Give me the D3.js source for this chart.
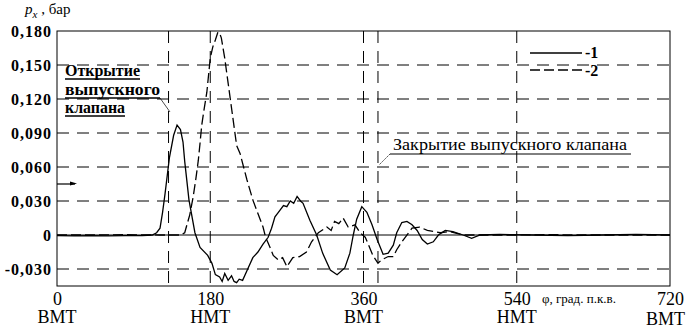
<!DOCTYPE html>
<html>
<head>
<meta charset="utf-8">
<script src="https://cdn.jsdelivr.net/npm/d3@7"></script>
</head>
<body style="margin:0">
<div id="chart"></div>
<script>
// crank angle, deg (curve 1, solid)
const deg1 = [0, 20, 40, 60, 80, 100, 112, 117, 121, 124, 127, 132, 137, 141, 145, 148, 150, 155, 162, 168, 177, 182, 186, 191, 194, 197, 201, 205, 208, 211, 214, 218, 224, 230, 236, 242, 248, 252, 256, 260, 266, 270, 274, 278, 282, 286, 289, 297, 305, 312, 321, 329, 338, 344, 348, 352, 358, 364, 370, 376, 383, 389, 395, 399, 405, 411, 417, 423, 429, 435, 442, 448, 456, 465, 477, 487, 497, 520, 560, 600, 640, 680, 720];
const val1 = [-0.0005, -0.0008, -0.0005, -0.0008, -0.0005, -0.0005, 0, 0.002, 0.006, 0.02, 0.037, 0.068, 0.088, 0.097, 0.093, 0.082, 0.065, 0.031, 0.002, -0.011, -0.018, -0.025, -0.035, -0.037, -0.041, -0.034, -0.04, -0.036, -0.041, -0.042, -0.039, -0.04, -0.03, -0.02, -0.015, -0.008, -0.002, 0.006, 0.016, 0.02, 0.026, 0.025, 0.03, 0.028, 0.034, 0.03, 0.028, 0.013, 0, -0.016, -0.031, -0.035, -0.029, -0.016, 0, 0.014, 0.025, 0.02, 0.009, -0.004, -0.017, -0.016, -0.009, 0.002, 0.011, 0.012, 0.009, 0.004, -0.004, -0.008, -0.006, 0, 0.004, 0.003, 0, -0.003, 0, 0.0005, 0, -0.0005, 0, 0.0005, 0];

// curve 2, dashed
const deg2 = [0, 40, 80, 120, 145, 150, 153, 156, 160, 163, 166, 168, 170, 173, 176, 180, 183, 186, 189, 191, 193, 197, 201, 205, 211, 215, 223, 230, 236, 242, 245, 248, 254, 260, 265, 270, 277, 285, 293, 299, 307, 317, 322, 326, 331, 336, 342, 350, 356, 362, 365, 371, 377, 381, 389, 395, 399, 405, 409, 417, 426, 435, 444, 450, 461, 477, 500, 540, 580, 620, 660, 720];
const val2 = [0, 0, 0.0003, 0, 0, 0.002, 0.01, 0.018, 0.034, 0.049, 0.066, 0.081, 0.097, 0.112, 0.126, 0.156, 0.166, 0.172, 0.179, 0.178, 0.174, 0.156, 0.134, 0.112, 0.079, 0.072, 0.049, 0.031, 0.019, 0.007, -0.002, -0.007, -0.018, -0.022, -0.02, -0.028, -0.02, -0.019, -0.015, -0.006, 0.002, 0.007, 0.004, 0.012, 0.01, 0.015, 0.007, 0.009, 0.002, -0.002, -0.007, -0.018, -0.025, -0.022, -0.019, -0.019, -0.013, -0.006, -0.002, 0.006, 0.007, 0.004, 0.003, 0.002, 0.003, 0, 0, 0, 0.0003, 0, 0, 0];

const yTicks = [0.180, 0.150, 0.120, 0.090, 0.060, 0.030, 0, -0.030];
const yGrid = [0.150, 0.120, 0.090, 0.060, 0.030, -0.030];
const xTicks = [0, 180, 360, 540, 720];
const xTickNames = ["ВМТ", "НМТ", "ВМТ", "НМТ", "ВМТ"];
const xGrid = [131, 180, 360, 377, 540];

const FONT = '"Liberation Serif"';

const svg = d3.select("#chart").append("svg")
    .attr("width", 689)
    .attr("height", 328);

// every text gets the serif face directly
function txt(sel) {
    return sel.style("font-family", FONT).attr("fill", "#000");
}

// scales
const x = d3.scaleLinear().domain([0, 720]).range([57, 670]);
const y = d3.scaleLinear().domain([-0.045, 0.180]).range([286, 31]);

// dashed grid
svg.selectAll(".hgrid").data(yGrid).enter().append("line")
    .attr("x1", x(0)).attr("x2", x(720))
    .attr("y1", d => y(d)).attr("y2", d => y(d))
    .attr("stroke", "#000").attr("stroke-dasharray", "12,8");

svg.selectAll(".vgrid").data(xGrid).enter().append("line")
    .attr("x1", d => x(d)).attr("x2", d => x(d))
    .attr("y1", y(0.180)).attr("y2", y(-0.045))
    .attr("stroke", "#000").attr("stroke-dasharray", "12,8");

// zero line
svg.append("line")
    .attr("x1", x(0)).attr("x2", x(720))
    .attr("y1", y(0)).attr("y2", y(0))
    .attr("stroke", "#000");

// frame
svg.append("rect")
    .attr("x", x(0)).attr("y", y(0.180))
    .attr("width", x(720) - x(0)).attr("height", y(-0.045) - y(0.180))
    .attr("fill", "none").attr("stroke", "#000");

// y axis labels
const fmt = d => d === 0 ? "0" : d3.format(".3f")(d).replace(".", ",").replace("−", "-");
const yAxis = svg.append("g")
    .attr("transform", "translate(" + x(0) + ",0)")
    .call(d3.axisLeft(y).tickValues(yTicks).tickFormat(fmt).tickSize(0).tickPadding(5));
yAxis.attr("font-family", null);
yAxis.select(".domain").remove();
txt(yAxis.selectAll("text"))
    .style("font-size", "16px")
    .style("font-weight", "bold")
    .style("letter-spacing", "1px");

// x axis labels
const xAxis = svg.append("g")
    .attr("transform", "translate(0," + y(-0.045) + ")")
    .call(d3.axisBottom(x).tickValues(xTicks).tickSize(0).tickPadding(6));
xAxis.attr("font-family", null);
xAxis.select(".domain").remove();
txt(xAxis.selectAll("text"))
    .style("font-size", "18px");

txt(svg.selectAll(".tname").data(xTicks).enter().append("text"))
    .attr("x", d => d === 720 ? 685 : x(d))
    .attr("y", (d, i) => i === 4 ? 325 : 323)
    .attr("text-anchor", d => d === 720 ? "end" : "middle")
    .style("font-size", "18px")
    .text((d, i) => xTickNames[i]);

txt(svg.append("text"))
    .attr("x", 542).attr("y", 303)
    .style("font-size", "13px")
    .text("φ, град. п.к.в.");

// y title
const yt = txt(svg.append("text")).attr("x", 25).attr("y", 14).style("font-size", "15px");
yt.append("tspan").style("font-style", "italic").text("p");
yt.append("tspan").style("font-style", "italic").style("font-size", "11px").attr("dy", 4).text("x");
yt.append("tspan").attr("dy", -4).text(" , бар");

// curves
const line = d3.line().x(d => x(d[0])).y(d => y(d[1]));
svg.append("path")
    .datum(d3.zip(deg1, val1))
    .attr("d", line)
    .attr("fill", "none").attr("stroke", "#000").attr("stroke-width", 1.3);
svg.append("path")
    .datum(d3.zip(deg2, val2))
    .attr("d", line)
    .attr("fill", "none").attr("stroke", "#000").attr("stroke-width", 1.3)
    .attr("stroke-dasharray", "10,4");

// legend
svg.append("line").attr("x1", 530).attr("x2", 582).attr("y1", 53).attr("y2", 53)
    .attr("stroke", "#000").attr("stroke-width", 1.3);
svg.append("line").attr("x1", 530).attr("x2", 582).attr("y1", 70).attr("y2", 70)
    .attr("stroke", "#000").attr("stroke-width", 1.3).attr("stroke-dasharray", "10,4");
txt(svg.append("text")).attr("x", 585).attr("y", 58).style("font-size", "16px").style("font-weight", "bold").text("-1");
txt(svg.append("text")).attr("x", 585).attr("y", 76).style("font-size", "16px").style("font-weight", "bold").text("-2");

// annotation: opening
const openLines = ["Открытие", "выпускного", "клапана"];
const openY = [76, 95, 113];
const openW = [75, 95, 60];
txt(svg.selectAll(".open").data(openLines).enter().append("text"))
    .attr("x", 65).attr("y", (d, i) => openY[i])
    .attr("textLength", (d, i) => openW[i]).attr("lengthAdjust", "spacingAndGlyphs")
    .style("font-size", "16px").style("font-weight", "bold")
    .text(d => d);
svg.selectAll(".openu").data(openLines).enter().append("line")
    .attr("x1", 65).attr("x2", (d, i) => 65 + openW[i])
    .attr("y1", (d, i) => openY[i] + 3).attr("y2", (d, i) => openY[i] + 3)
    .attr("stroke", "#000").attr("stroke-width", 1.5);
svg.append("line").attr("x1", 160).attr("x2", 170).attr("y1", 98).attr("y2", 112)
    .attr("stroke", "#000").attr("stroke-width", 0.7);

// annotation: closing
txt(svg.append("text")).attr("x", 393).attr("y", 150)
    .attr("textLength", 234).attr("lengthAdjust", "spacingAndGlyphs")
    .style("font-size", "17px")
    .text("Закрытие выпускного клапана");
svg.append("line").attr("x1", 390).attr("x2", 631).attr("y1", 154).attr("y2", 154)
    .attr("stroke", "#000");
svg.append("line").attr("x1", 390).attr("x2", 379).attr("y1", 154).attr("y2", 165)
    .attr("stroke", "#000").attr("stroke-width", 0.7).attr("stroke-dasharray", "2,1");

// small arrow at left
svg.append("line").attr("x1", x(0)).attr("x2", 75).attr("y1", y(0.045)).attr("y2", y(0.045))
    .attr("stroke", "#000").attr("stroke-width", 1.2);
svg.append("path")
    .attr("d", "M70," + (y(0.045) - 2.5) + "L77," + (y(0.045) - 0.5) + "L70," + (y(0.045) + 1.5) + "Z")
    .attr("fill", "#000");
</script>
</body>
</html>
